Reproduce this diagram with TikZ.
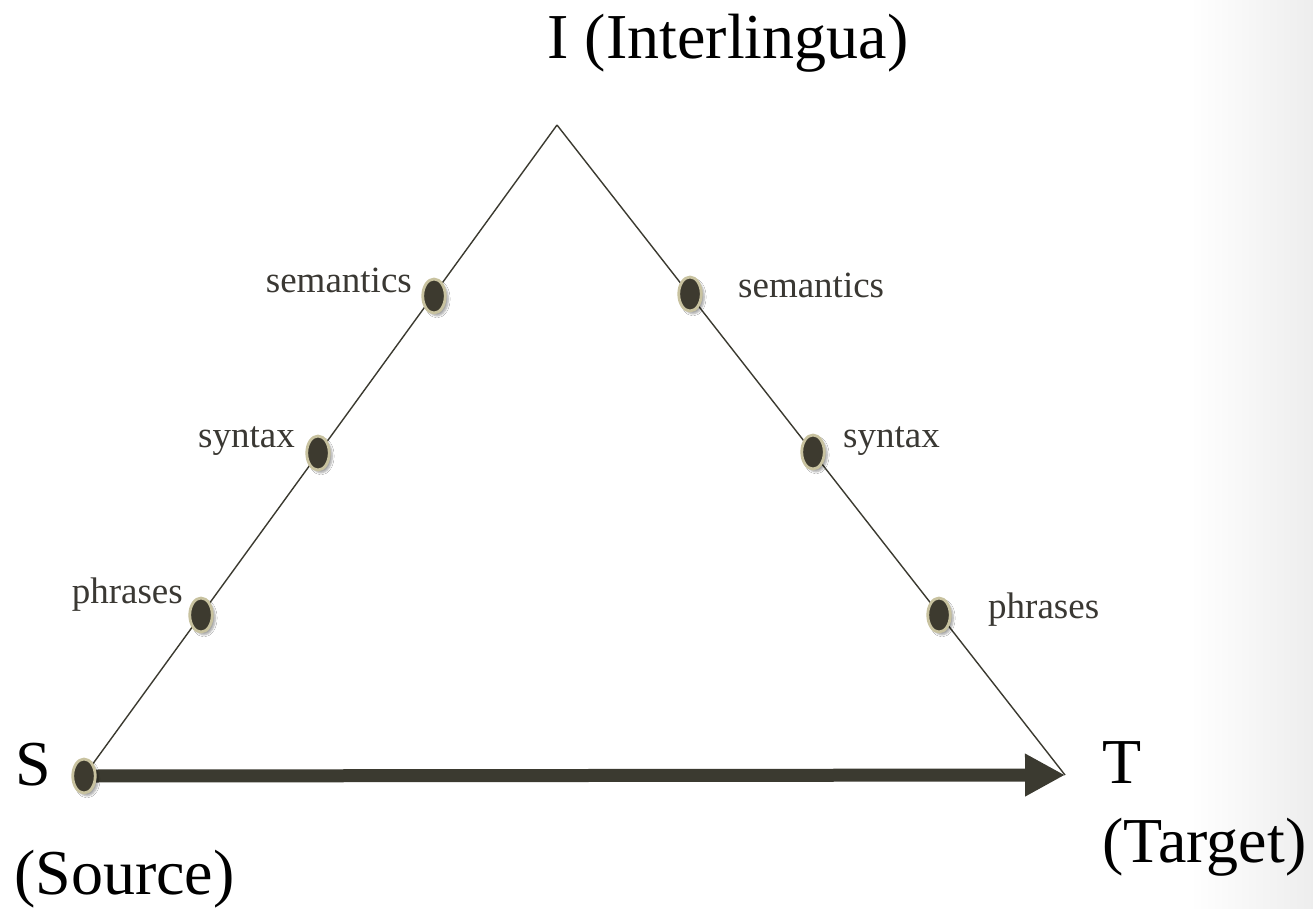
\documentclass[tikz,border=0pt]{standalone}
\usepackage{fontspec}
\setmainfont{Liberation Serif}
\usetikzlibrary{shapes.geometric,arrows.meta,shadows.blur}
\definecolor{dotfill}{HTML}{3D3A2F}
\definecolor{dotedge}{HTML}{C8C29F}
\definecolor{linecol}{HTML}{3B3A30}
\definecolor{smalltext}{HTML}{3A3833}
\tikzset{
  dotnode/.style={ellipse, draw=dotedge, fill=dotfill, line width=2.8pt,
    minimum width=22.5pt, minimum height=34pt, inner sep=0pt,
    blur shadow={shadow xshift=3pt, shadow yshift=-3pt, shadow blur steps=6, shadow opacity=35}},
  biglabel/.style={inner sep=0pt, font=\fontsize{64}{70}\selectfont, text=black},
  smalllabel/.style={inner sep=0pt, font=\fontsize{37}{40}\selectfont, text=smalltext},
  edge/.style={draw=linecol, line width=1.4pt},
  mainarrow/.style={draw=linecol, line width=13pt, -{Triangle[length=40pt,width=40pt]}}
}
\begin{document}
\begin{tikzpicture}[x=1pt,y=-1pt]
\useasboundingbox (0,0) rectangle (1313,908);
\fill[white] (0,0) rectangle (1313,908);
\shade[left color=white, right color=black!7] (1190,0) rectangle (1313,908);
% vertices
\coordinate (apex) at (557,125);
\coordinate (tv) at (1065,775);
\node[dotnode, opacity=0] (s) at (84,776) {};
% triangle sides
\draw[edge] (apex) -- (s.center);
\draw[edge] (apex) -- (tv);
% main arrow
\draw[mainarrow] (s.center) -- (tv);
% dots
\node[dotnode] (sdot) at (84,776) {};
\node[dotnode] (lsem) at (434,296) {};
\node[dotnode] (lsyn) at (318,453) {};
\node[dotnode] (lphr) at (201,615) {};
\node[dotnode] (rsem) at (690,294) {};
\node[dotnode] (rsyn) at (813,452) {};
\node[dotnode] (rphr) at (939,615) {};
% small labels
\node[smalllabel, anchor=base east] (lsemt) at (412,292) {semantics};
\node[smalllabel, anchor=base east] (lsynt) at (295,447) {syntax};
\node[smalllabel, anchor=base east] (lphrt) at (183,603) {phrases};
\node[smalllabel, anchor=base west] (rsemt) at (738,297) {semantics};
\node[smalllabel, anchor=base west] (rsynt) at (843,447) {syntax};
\node[smalllabel, anchor=base west] (rphrt) at (988,618) {phrases};
% big labels
\node[biglabel, anchor=base] (itext) at (728,58) {I (Interlingua)};
\node[biglabel, anchor=base west] (stext) at (15,785) {S};
\node[biglabel, anchor=base west] (srctext) at (14,894) {(Source)};
\node[biglabel, anchor=base west] (ttext) at (1102,783) {T};
\node[biglabel, anchor=base west] (tgttext) at (1102,862) {(Target)};
\end{tikzpicture}
\end{document}
